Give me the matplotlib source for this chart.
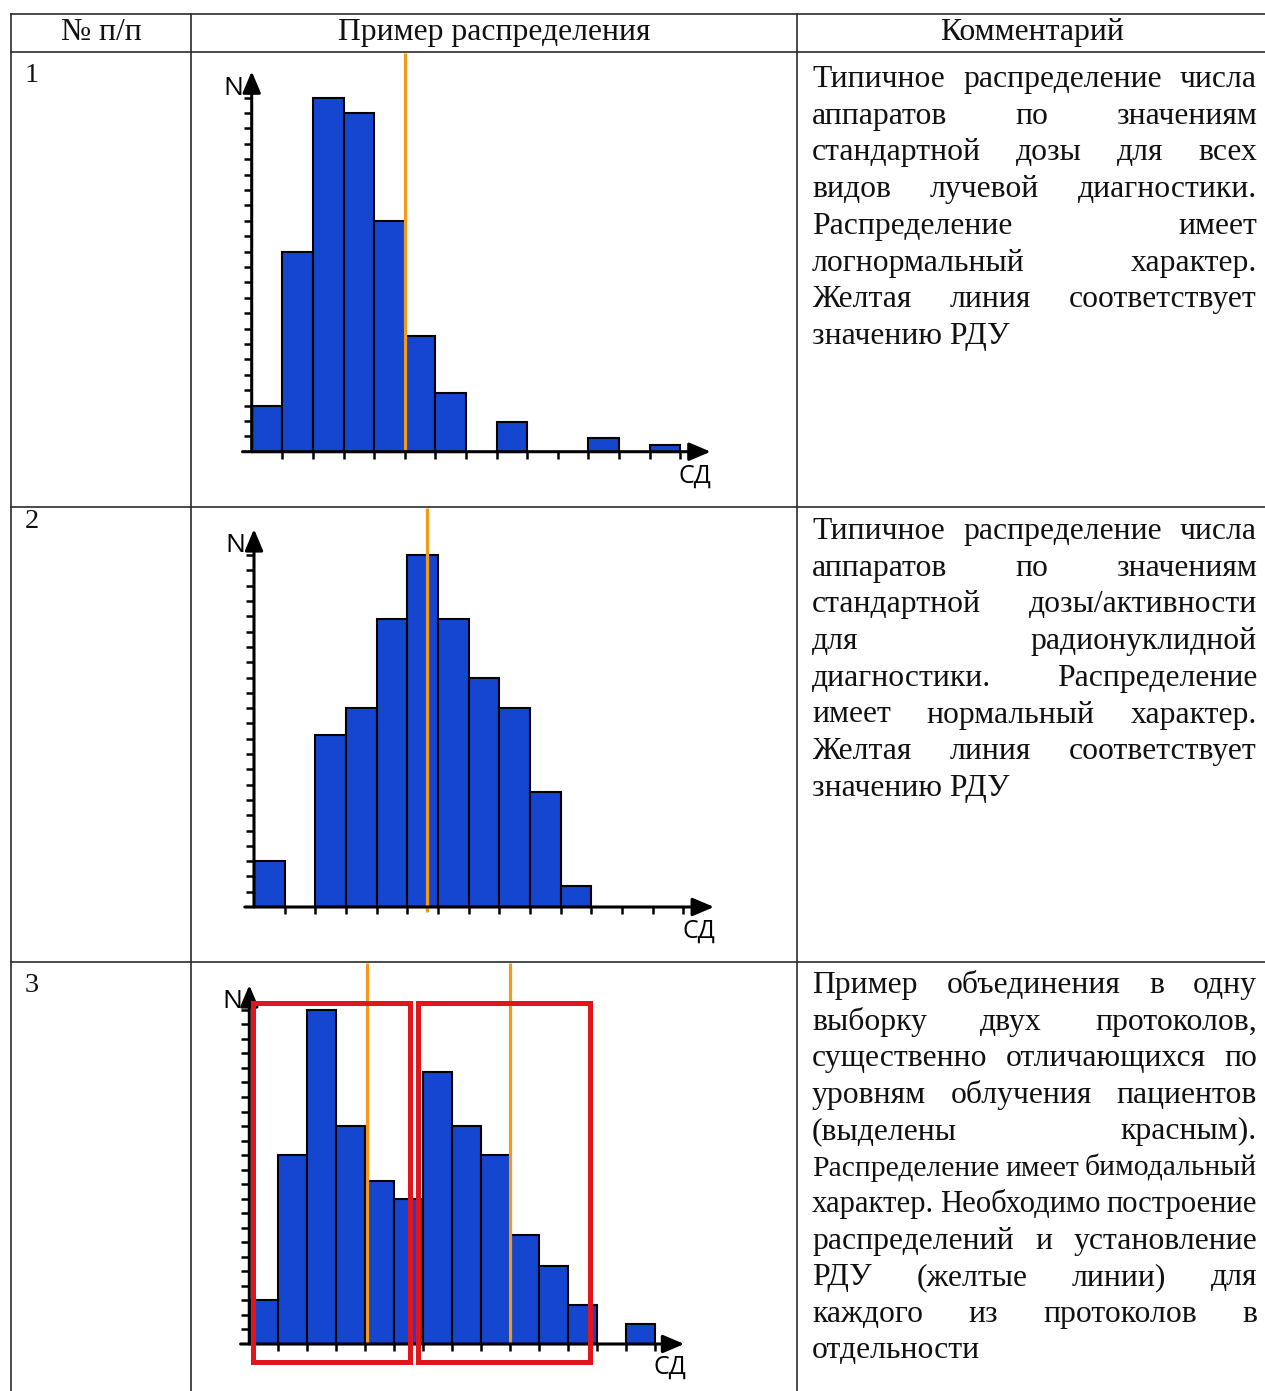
import matplotlib
matplotlib.use("Agg")
import matplotlib.pyplot as plt
import numpy as np
from matplotlib.patches import Rectangle

W, H = 1265, 1391

# --- data -------------------------------------------------------------
headers = ["№ п/п", "Пример распределения", "Комментарий"]
row_numbers = ["1", "2", "3"]

counts1 = [3, 13, 23, 22, 15, 7.5, 3.8, 0, 1.9, 0, 0, 0.9, 0, 0.45]
rdu1 = [5.0]

counts2 = [3, 0, 11.25, 13, 18.8, 23, 18.8, 15, 13, 7.5, 1.35, 0, 0, 0]
rdu2 = [5.65]

counts3 = [3, 13, 23, 15, 11.2, 10, 18.7, 15, 13, 7.5, 5.4, 2.7, 0, 1.35]
rdu3 = [4.05, 9.0]
groups3 = [(0.14, 5.54), (5.8, 11.74)]

comment1 = ["Типичное распределение числа",
            "аппаратов по значениям",
            "стандартной дозы для всех",
            "видов лучевой диагностики.",
            "Распределение имеет",
            "логнормальный характер.",
            "Желтая линия соответствует",
            "значению РДУ"]
comment2 = ["Типичное распределение числа",
            "аппаратов по значениям",
            "стандартной дозы/активности",
            "для радионуклидной",
            "диагностики. Распределение",
            "имеет нормальный характер.",
            "Желтая линия соответствует",
            "значению РДУ"]
comment3 = ["Пример объединения в одну",
            "выборку двух протоколов,",
            "существенно отличающихся по",
            "уровням облучения пациентов",
            "(выделены красным).",
            "Распределение имеет бимодальный",
            "характер. Необходимо построение",
            "распределений и установление",
            "РДУ (желтые линии) для",
            "каждого из протоколов в",
            "отдельности"]

SERIF = "Liberation Serif"
SANS = "Open Sans"
BLUE = "#1446cf"
ORANGE = "#f39a1c"
RED = "#e3151c"
INK = "#111111"
TXT = 22.8  # pt

fig = plt.figure(figsize=(W / 100, H / 100), dpi=100)
bg = fig.add_axes([0, 0, 1, 1])
bg.set_xlim(0, W)
bg.set_ylim(H, 0)
bg.axis("off")

# table grid
lc = "#2b2b2b"
for y in [14, 52, 507, 962]:
    bg.plot([11, W], [y, y], color=lc, lw=1.2)
for x in [11, 191, 797]:
    bg.plot([x, x], [14, H], color=lc, lw=1.2)

# header
for txt, xc in zip(headers, [101, 494, 1032]):
    bg.text(xc, 40, txt, fontsize=TXT, family=SERIF, ha="center",
            va="baseline", color=INK)

for num, yb in zip(row_numbers, [82, 528, 992]):
    bg.text(25, yb, num, fontsize=20.5, family=SERIF, ha="left",
            va="baseline", color=INK)

# justified comments
renderer = fig.canvas.get_renderer()


def wwidth(word, size):
    t = bg.text(0, 0, word, fontsize=size, family=SERIF)
    w = t.get_window_extent(renderer).width
    t.remove()
    return w


def justified(lines, x0, x1, y0, step):
    colw = x1 - x0
    for i, line in enumerate(lines):
        y = y0 + i * step
        words = line.split()
        size = TXT
        widths = [wwidth(w, size) for w in words]
        last = i == len(lines) - 1
        em = size * 100 / 72
        if last or len(words) == 1:
            bg.text(x0, y, line, fontsize=size, family=SERIF, ha="left",
                    va="baseline", color=INK)
            continue
        min_gap = 0.18 * em
        if sum(widths) + min_gap * (len(words) - 1) > colw:
            size = size * (colw - min_gap * (len(words) - 1)) / sum(widths)
            widths = [wwidth(w, size) for w in words]
        gap = (colw - sum(widths)) / (len(words) - 1)
        x = x0
        for w, wd in zip(words, widths):
            bg.text(x, y, w, fontsize=size, family=SERIF, ha="left",
                    va="baseline", color=INK)
            x += wd + gap


justified(comment1, 812, 1257, 87, 36.7)
justified(comment2, 812, 1257, 539, 36.7)
justified(comment3, 812, 1257, 993, 36.55)


# histograms
def hist(counts, rdu, ox, oy, ux, uy, line_bottom, line_top, frames=None):
    x0, x1, y0, y1 = -1.5, 16.0, -2.5, 27.5
    left = ox + x0 * ux
    top = oy - y1 * uy
    w = (x1 - x0) * ux
    h = (y1 - y0) * uy
    ax = fig.add_axes([left / W, 1 - (top + h) / H, w / W, h / H])
    ax.set_xlim(x0, x1)
    ax.set_ylim(y0, y1)
    ax.patch.set_alpha(0)
    for s in ax.spines.values():
        s.set_visible(False)
    ax.spines["left"].set_position(("data", 0))
    ax.spines["bottom"].set_position(("data", 0))
    ax.set_xticks(range(1, 15))
    ax.set_yticks(range(1, 24))
    ax.tick_params(axis="x", direction="out", length=5, width=1.8,
                   labelbottom=False, top=False)
    ax.tick_params(axis="y", direction="out", length=6, width=1.8,
                   labelleft=False, right=False)

    c = np.array(counts, dtype=float)
    edges = np.arange(len(c))
    keep = c > 0
    ax.bar(edges[keep], c[keep], width=1, align="edge", color=BLUE,
           edgecolor="black", linewidth=1.5, zorder=2)
    ax.vlines(rdu, line_bottom, line_top, color=ORANGE, lw=2.3, zorder=3,
              clip_on=False)

    arrow = dict(arrowstyle="-|>,head_length=1.3,head_width=0.55",
                 lw=2.2, color="black", shrinkA=0, shrinkB=0,
                 mutation_scale=10)
    ax.annotate("", xy=(15.0, 0), xytext=(-0.3, 0), arrowprops=arrow,
                zorder=4)
    ax.annotate("", xy=(0, 24.7), xytext=(0, 0), arrowprops=arrow, zorder=4)

    ax.text(-0.6, 23.6, "N", family=SANS, fontsize=19, ha="center",
            va="center")
    ax.text(14.5, -1.6, "СД", family=SANS, fontsize=18, ha="center",
            va="center")

    if frames:
        for fx0, fx1 in frames:
            ax.add_patch(Rectangle((fx0, -1.24), fx1 - fx0, 24.7, fill=False,
                                   edgecolor=RED, lw=3.6, zorder=5,
                                   clip_on=False))
    return ax


hist(counts1, rdu1, 251.7, 451.7, 30.6, 15.4, 0, 25.9)
hist(counts2, rdu2, 254.0, 907.0, 30.67, 15.3, -0.3, 26.1)
hist(counts3, rdu3, 249.3, 1344.0, 29.0, 14.53, 0, 26.2, frames=groups3)

fig.savefig("out.png", dpi=100)
